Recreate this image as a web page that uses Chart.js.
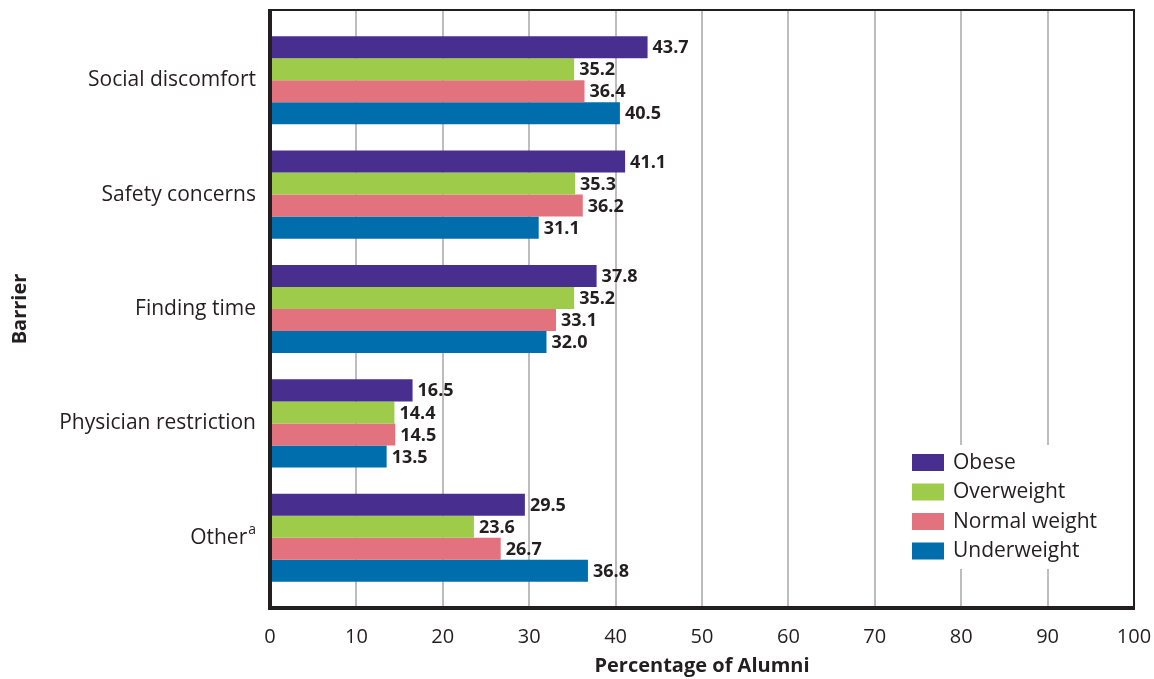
<!DOCTYPE html>
<html>
<head>
<meta charset="utf-8">
<script src="https://cdn.jsdelivr.net/npm/chart.js@4"></script>
<style>
  html, body { margin: 0; padding: 0; background: #fff; }
  #wrap { width: 1154px; height: 679px; }
</style>
</head>
<body>
<div id="wrap"><canvas id="barrier-chart" width="1154" height="679"></canvas></div>
<script>
const barriers = ['Social discomfort', 'Safety concerns', 'Finding time', 'Physician restriction', 'Other']
const seriesNames = ['Obese', 'Overweight', 'Normal weight', 'Underweight']
const obese = [43.7, 41.1, 37.8, 16.5, 29.5]
const overweight = [35.2, 35.3, 35.2, 14.4, 23.6]
const normalWeight = [36.4, 36.2, 33.1, 14.5, 26.7]
const underweight = [40.5, 31.1, 32.0, 13.5, 36.8]
const xTicks = [0, 10, 20, 30, 40, 50, 60, 70, 80, 90, 100]

const colors = ['#482f8f', '#9ecb4a', '#e2727d', '#006eac']
const textColor = '#231f20'
const fontFamily = "'Open Sans', 'Noto Sans', sans-serif"

// frame, gridlines, category labels, value labels and legend
const framePlugin = {
    id: 'frame',
    beforeDatasetsDraw(chart) {
        const c = chart.ctx
        const area = chart.chartArea
        const x = chart.scales.x
        const top = area.top - 13
        const bottom = area.bottom + 13
        c.save()
        c.strokeStyle = '#bdbdbd'
        c.lineWidth = 2
        xTicks.forEach(t => {
            if (t === 0 || t === 100) return
            const px = Math.round(x.getPixelForValue(t))
            c.beginPath()
            c.moveTo(px, top)
            c.lineTo(px, bottom)
            c.stroke()
        })
        c.restore()
    },
    afterDatasetsDraw(chart) {
        const c = chart.ctx
        const area = chart.chartArea
        const y = chart.scales.y
        const top = area.top - 13
        const bottom = area.bottom + 13
        c.save()

        // value labels
        c.font = 'bold 18px ' + fontFamily
        c.fillStyle = textColor
        c.textAlign = 'left'
        c.textBaseline = 'middle'
        chart.data.datasets.forEach((ds, i) => {
            chart.getDatasetMeta(i).data.forEach((bar, j) => {
                c.fillText(ds.data[j].toFixed(1), bar.x + 5, bar.y + 1)
            })
        })

        // category labels
        c.font = '21px ' + fontFamily
        c.textAlign = 'right'
        barriers.forEach((name, i) => {
            const py = y.getPixelForValue(i)
            const rx = area.left - 14
            if (name === 'Other') {
                c.font = '14px ' + fontFamily
                const w = c.measureText('a').width
                c.fillText('a', rx, py - 8)
                c.font = '21px ' + fontFamily
                c.fillText(name, rx - w - 1, py)
            } else {
                c.fillText(name, rx, py)
            }
        })

        // legend
        const lx = 912, ly = 462, step = 29.5
        c.fillStyle = '#fff'
        c.fillRect(lx - 7, ly - 17, 215, 4 * step + 6)
        c.textAlign = 'left'
        c.font = '21px ' + fontFamily
        seriesNames.forEach((name, i) => {
            const yy = ly + i * step
            c.fillStyle = colors[i]
            c.fillRect(lx, yy - 8, 32, 17)
            c.fillStyle = textColor
            c.fillText(name, lx + 41, yy + 1)
        })

        // frame
        c.strokeStyle = '#231f20'
        c.lineWidth = 2
        c.strokeRect(area.left, top, area.right - area.left, bottom - top)
        c.lineWidth = 4
        c.beginPath()
        c.moveTo(area.left, top - 1)
        c.lineTo(area.left, bottom)
        c.lineTo(area.right + 1, bottom)
        c.stroke()
        c.restore()
    }
}

const datasets = [obese, overweight, normalWeight, underweight].map((values, i) => ({
    label: seriesNames[i],
    data: values,
    backgroundColor: colors[i],
    borderWidth: 0,
    barPercentage: 1,
    categoryPercentage: 0.77
}))

const ctx = document.getElementById('barrier-chart')
new Chart(ctx, {
    type: 'bar',
    data: { labels: barriers, datasets: datasets },
    options: {
        indexAxis: 'y',
        responsive: false,
        animation: false,
        events: [],
        layout: { padding: { top: 23, right: 20, left: 0, bottom: 0 } },
        plugins: {
            legend: { display: false },
            tooltip: { enabled: false }
        },
        scales: {
            x: {
                min: 0,
                max: 100,
                afterBuildTicks(scale) { scale.ticks = xTicks.map(v => ({ value: v })) },
                afterFit(scale) {
                    scale.height = 84
                    scale.paddingLeft = 0
                    scale.paddingRight = 0
                },
                grid: { display: false },
                border: { display: false },
                ticks: {
                    color: textColor,
                    font: { family: fontFamily, size: 20 },
                    padding: 22
                },
                title: {
                    display: true,
                    text: 'Percentage of Alumni',
                    color: textColor,
                    font: { family: fontFamily, size: 20, weight: 'bold' },
                    padding: { top: 0, bottom: 1 }
                }
            },
            y: {
                afterFit(scale) { scale.width = 270 },
                grid: { display: false },
                border: { display: false },
                ticks: { display: false },
                title: {
                    display: true,
                    text: 'Barrier',
                    color: textColor,
                    font: { family: fontFamily, size: 20, weight: 'bold' },
                    padding: { top: 8, bottom: 0 }
                }
            }
        }
    },
    plugins: [framePlugin]
})
</script>
</body>
</html>
